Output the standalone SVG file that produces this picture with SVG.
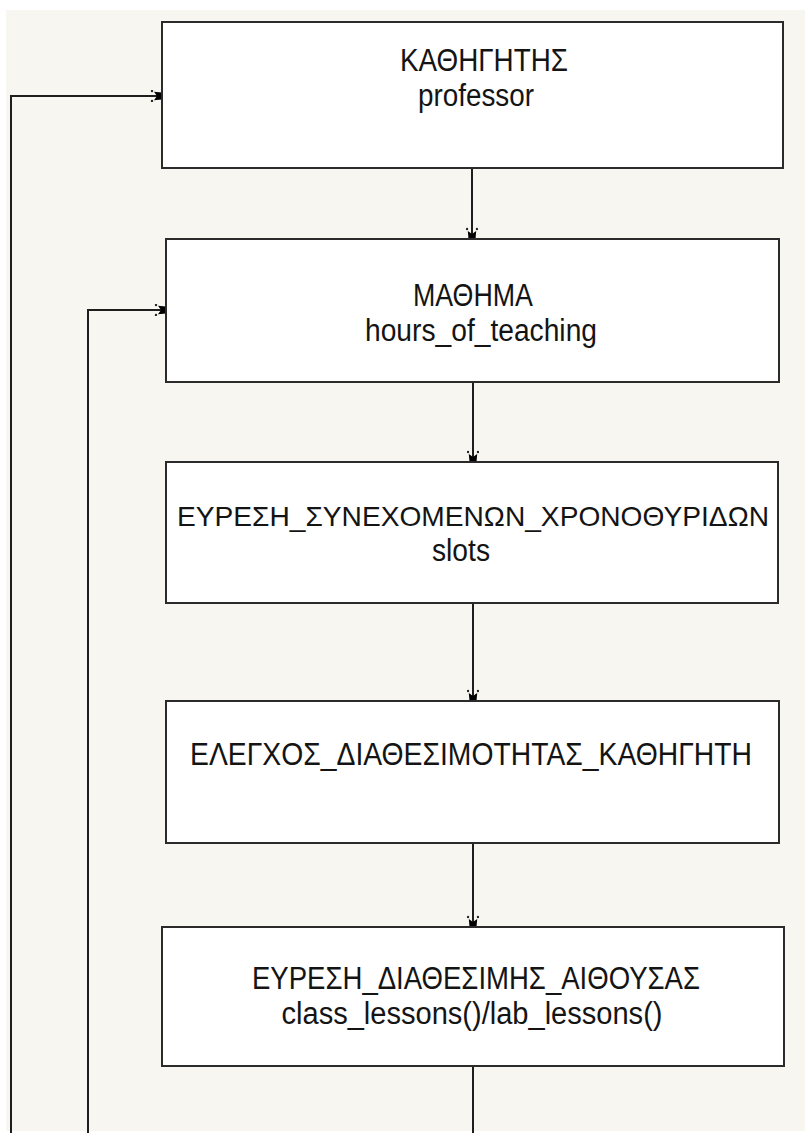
<svg xmlns="http://www.w3.org/2000/svg" width="806" height="1133" viewBox="0 0 806 1133">
  <defs>
    <style>
      .box { fill: #ffffff; stroke: #2b2b2b; stroke-width: 2; }
      .lbl { font-family: "Liberation Sans", Arial, sans-serif; font-size: 31px; fill: #141414; text-anchor: middle; }
      .wide { font-size: 28.5px; }
      .wire { fill: none; stroke: #1e1e1e; stroke-width: 2; }
    </style>
    <marker id="head" viewBox="0 0 12 12" refX="12" refY="6" markerWidth="12" markerHeight="12" markerUnits="userSpaceOnUse" orient="auto">
      <path d="M4,1.8 L12,2.5 L12,9.5 L4,10.2 L7,6 Z" fill="#000"/>
      <circle cx="2" cy="1" r="1.2" fill="#222"/>
      <circle cx="2" cy="11" r="1.2" fill="#222"/>
    </marker>
  </defs>

  <!-- canvas -->
  <rect x="0" y="0" width="806" height="1133" fill="#ffffff"/>
  <rect x="6" y="10" width="799" height="1121" fill="#f8f6f0"/>

  <!-- connectors -->
  <g id="connectors">
    <polyline class="wire" points="11,1133 11,96 162,96" marker-end="url(#head)"/>
    <polyline class="wire" points="88,1133 88,310 166,310" marker-end="url(#head)"/>
    <line class="wire" x1="472" y1="168" x2="472" y2="239" marker-end="url(#head)"/>
    <line class="wire" x1="473" y1="382" x2="473" y2="462" marker-end="url(#head)"/>
    <line class="wire" x1="473" y1="603" x2="473" y2="701" marker-end="url(#head)"/>
    <line class="wire" x1="473" y1="843" x2="473" y2="927" marker-end="url(#head)"/>
    <line class="wire" x1="473" y1="1066" x2="473" y2="1133"/>
  </g>

  <!-- professor -->
  <g id="node-professor">
    <rect class="box" x="162" y="22" width="621" height="146"/>
    <text class="lbl" x="484" y="71" textLength="168" lengthAdjust="spacingAndGlyphs">ΚΑΘΗΓΗΤΗΣ</text>
    <text class="lbl" x="476" y="106" textLength="116" lengthAdjust="spacingAndGlyphs">professor</text>
  </g>

  <!-- course -->
  <g id="node-course">
    <rect class="box" x="166" y="239" width="613" height="143"/>
    <text class="lbl" x="473" y="306" textLength="120" lengthAdjust="spacingAndGlyphs">ΜΑΘΗΜΑ</text>
    <text class="lbl" x="481" y="341" textLength="232" lengthAdjust="spacingAndGlyphs">hours_of_teaching</text>
  </g>

  <!-- consecutive slots -->
  <g id="node-slots">
    <rect class="box" x="166" y="462" width="612" height="141"/>
    <text class="lbl wide" x="473" y="526" textLength="592" lengthAdjust="spacingAndGlyphs">ΕΥΡΕΣΗ_ΣΥΝΕΧΟΜΕΝΩΝ_ΧΡΟΝΟΘΥΡΙΔΩΝ</text>
    <text class="lbl" x="461" y="561" textLength="58" lengthAdjust="spacingAndGlyphs">slots</text>
  </g>

  <!-- professor availability -->
  <g id="node-availability">
    <rect class="box" x="166" y="701" width="613" height="142"/>
    <text class="lbl" x="471" y="765" textLength="562" lengthAdjust="spacingAndGlyphs">ΕΛΕΓΧΟΣ_ΔΙΑΘΕΣΙΜΟΤΗΤΑΣ_ΚΑΘΗΓΗΤΗ</text>
  </g>

  <!-- available room -->
  <g id="node-room">
    <rect class="box" x="162" y="927" width="622" height="139"/>
    <text class="lbl" x="476" y="989" textLength="448" lengthAdjust="spacingAndGlyphs">ΕΥΡΕΣΗ_ΔΙΑΘΕΣΙΜΗΣ_ΑΙΘΟΥΣΑΣ</text>
    <text class="lbl" x="472" y="1024" textLength="381" lengthAdjust="spacingAndGlyphs">class_lessons()/lab_lessons()</text>
  </g>
</svg>
